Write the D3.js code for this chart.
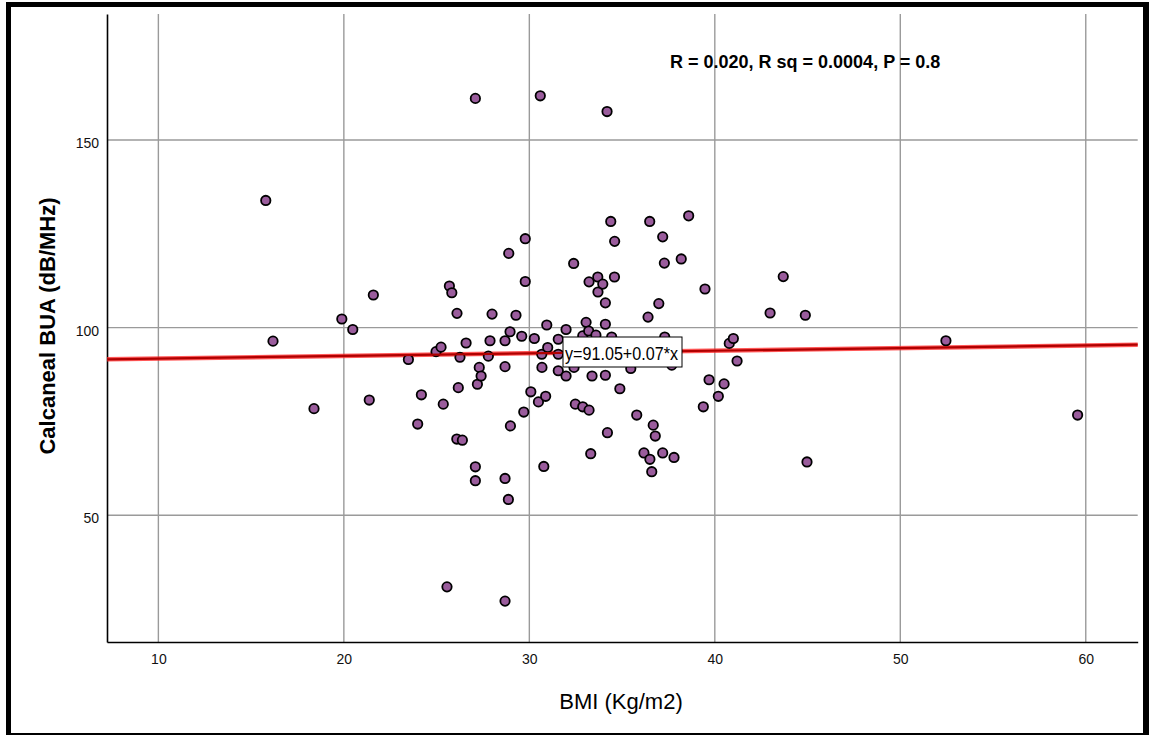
<!DOCTYPE html>
<html>
<head>
<meta charset="utf-8">
<script src="https://cdn.jsdelivr.net/npm/d3@7"></script>
<style>
  body { margin: 0; background: #fff; }
  svg { display: block; font-family: Arial, "Liberation Sans", sans-serif; }
</style>
</head>
<body>
<script>
// BMI (x) and calcaneal BUA (y)
var bmi = [15.79, 16.18, 18.39, 19.89, 20.48, 21.59, 21.37, 23.48, 23.98, 24.18,
  24.97, 25.24, 25.36, 25.69, 25.82, 26.10, 26.17, 26.26, 26.09, 26.39,
  26.59, 27.09, 27.09, 27.09, 27.20, 27.30, 27.40, 27.79, 27.88, 27.99,
  28.69, 28.69, 28.69, 28.87, 28.89, 28.96, 28.98, 28.69, 25.56, 29.28,
  29.59, 29.70, 29.78, 29.78, 30.08, 30.27, 30.49, 30.59, 30.67, 30.68,
  30.78, 30.88, 30.94, 30.99, 31.56, 31.56, 31.56, 31.98, 31.98, 32.39,
  32.41, 32.48, 32.88, 32.88, 33.06, 33.20, 33.22, 33.22, 33.31, 33.38,
  33.59, 33.69, 33.70, 33.96, 34.10, 34.10, 34.10, 34.19, 34.21, 34.39,
  34.44, 34.59, 34.60, 34.88, 35.47, 35.79, 36.18, 36.40, 36.49, 36.50,
  36.60, 36.68, 36.79, 36.98, 37.19, 37.19, 37.28, 37.30, 37.68, 37.80,
  38.19, 38.59, 39.38, 39.47, 39.69, 40.19, 40.50, 40.78, 41.00, 41.20,
  42.98, 43.69, 44.88, 44.97, 52.46, 59.56];
var bua = [133.9, 96.4, 78.4, 102.3, 99.5, 108.7, 80.7, 91.5, 74.3, 82.1,
  93.6, 94.8, 79.6, 111.1, 109.3, 103.8, 84.0, 92.1, 70.3, 70.0,
  95.9, 161.1, 62.9, 59.2, 84.9, 89.4, 87.1, 92.4, 96.5, 103.6,
  96.5, 89.6, 59.8, 54.2, 119.8, 98.9, 73.8, 27.1, 30.9, 103.3,
  97.7, 77.5, 123.7, 112.3, 82.9, 97.1, 80.2, 161.8, 92.9, 89.4,
  63.0, 81.7, 100.7, 94.7, 96.9, 92.9, 88.5, 99.5, 87.1, 117.1,
  89.4, 79.6, 78.9, 97.8, 101.4, 99.1, 112.2, 78.0, 66.4, 87.1,
  98.0, 113.5, 109.5, 111.6, 106.6, 100.9, 87.3, 157.6, 72.0, 128.3,
  97.5, 113.5, 123.0, 83.7, 89.1, 76.7, 66.6, 102.8, 128.3, 64.9,
  61.6, 74.0, 71.1, 106.4, 124.2, 66.6, 117.2, 97.5, 90.0, 65.4,
  118.3, 129.8, 78.9, 110.3, 86.1, 81.7, 85.0, 95.8, 97.1, 91.1,
  103.9, 113.6, 103.3, 64.2, 96.5, 76.7];

var xTicks = [10, 20, 30, 40, 50, 60];
var yTicks = [50, 100, 150];

// linear fit shown on the chart
var intercept = 91.05;
var slope = 0.07;
var fitLabel = 'y=91.05+0.07*x';
var statsLabel = 'R = 0.020, R sq = 0.0004, P = 0.8';

var W = 1149, H = 735;
// plot area edges (note: "top" is reserved on window, so use other names)
var plotLeft = 107, plotRight = 1137.7, plotTop = 14, plotBottom = 642;

var svg = d3.select('body')
.append('svg')
    .attr('width', W)
    .attr('height', H);

var x = d3.scaleLinear().domain([7.23, 62.8]).range([plotLeft, plotRight]);
var y = d3.scaleLinear().domain([16.2, 183.6]).range([plotBottom, plotTop]);

// grid
svg.selectAll('line.vgrid')
    .data(xTicks).enter().append('line')
    .attr('class', 'vgrid')
    .attr('x1', function(d){ return x(d); })
    .attr('x2', function(d){ return x(d); })
    .attr('y1', plotTop)
    .attr('y2', plotBottom)
    .attr('stroke', '#9a9a9a')
    .attr('stroke-width', 1.4);

svg.selectAll('line.hgrid')
    .data(yTicks).enter().append('line')
    .attr('class', 'hgrid')
    .attr('x1', plotLeft)
    .attr('x2', plotRight)
    .attr('y1', function(d){ return y(d); })
    .attr('y2', function(d){ return y(d); })
    .attr('stroke', '#9a9a9a')
    .attr('stroke-width', 1.4);

// axes, no tick marks
var xAxis = svg.append('g')
    .attr('transform', 'translate(0,' + plotBottom + ')')
    .call(d3.axisBottom(x).tickValues(xTicks).tickSize(0).tickPadding(12).tickFormat(d3.format('d')));
var yAxis = svg.append('g')
    .attr('transform', 'translate(' + plotLeft + ',0)')
    .call(d3.axisLeft(y).tickValues(yTicks).tickSize(0).tickPadding(8).tickFormat(d3.format('d')));

[xAxis, yAxis].forEach(function(g){
    g.select('.domain').attr('stroke', '#000').attr('stroke-width', 1.6);
    g.selectAll('text').attr('font-size', 14).attr('fill', '#111')
        .attr('font-family', 'Arial, "Liberation Sans", sans-serif');
});
yAxis.selectAll('text').attr('dy', '0.55em');

// fit line, soft red under the points
svg.append('line')
    .attr('x1', x(7.23)).attr('y1', y(intercept + slope * 7.23))
    .attr('x2', x(62.8)).attr('y2', y(intercept + slope * 62.8))
    .attr('stroke', '#ff2020')
    .attr('stroke-opacity', 0.75)
    .attr('stroke-width', 4.5);

// points
svg.selectAll('circle')
    .data(bmi).enter()
    .append('circle')
    .attr('cx', function(d){ return x(d); })
    .attr('cy', function(d, i){ return y(bua[i]); })
    .attr('r', 4.7)
    .attr('fill', '#9a5c9c')
    .attr('stroke', '#000')
    .attr('stroke-width', 1.8);

// dark core of the fit line on top
svg.append('line')
    .attr('x1', x(7.23)).attr('y1', y(intercept + slope * 7.23))
    .attr('x2', x(62.8)).attr('y2', y(intercept + slope * 62.8))
    .attr('stroke', '#b00000')
    .attr('stroke-width', 2.2);

// equation box
svg.append('rect')
    .attr('x', 563).attr('y', 337)
    .attr('width', 119).attr('height', 30)
    .attr('fill', '#fff')
    .attr('stroke', '#000')
    .attr('stroke-width', 1);
svg.append('text')
    .attr('x', 565).attr('y', 359.5)
    .attr('font-size', 18.5)
    .attr('textLength', 113)
    .attr('lengthAdjust', 'spacingAndGlyphs')
    .text(fitLabel);

// stats text
svg.append('text')
    .attr('x', 670).attr('y', 68)
    .attr('font-size', 18)
    .attr('font-weight', 'bold')
    .text(statsLabel);

// axis titles
svg.append('text')
    .attr('transform', 'translate(55,326) rotate(-90)')
    .attr('text-anchor', 'middle')
    .attr('font-size', 22)
    .attr('font-weight', 'bold')
    .text('Calcaneal BUA (dB/MHz)');
svg.append('text')
    .attr('x', 621).attr('y', 709)
    .attr('text-anchor', 'middle')
    .attr('font-size', 22)
    .text('BMI (Kg/m2)');

// outer frame
svg.append('rect').attr('x', 6).attr('y', 2).attr('width', 5).attr('height', 733).attr('fill', '#000');
svg.append('rect').attr('x', 6).attr('y', 2).attr('width', 1143).attr('height', 5).attr('fill', '#000');
svg.append('rect').attr('x', 1143).attr('y', 2).attr('width', 6).attr('height', 733).attr('fill', '#000');
svg.append('rect').attr('x', 6).attr('y', 733).attr('width', 1143).attr('height', 2).attr('fill', '#000');
</script>
</body>
</html>
